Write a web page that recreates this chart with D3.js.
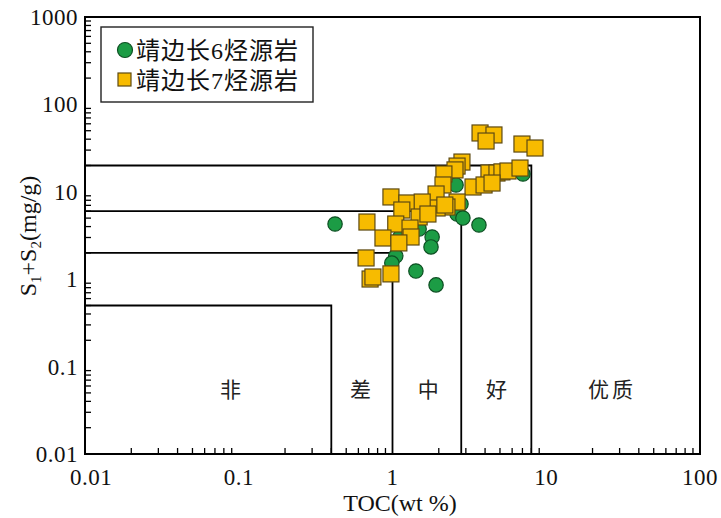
<!DOCTYPE html>
<html>
<head>
<meta charset="utf-8">
<script src="https://cdn.jsdelivr.net/npm/d3@7"></script>
<style>
  html, body { margin: 0; padding: 0; background: #fff; }
  .serif { font-family: "Liberation Serif", "Times New Roman", Times, "DejaVu Serif", serif, "Noto Sans CJK SC"; }
  .cjk { font-family: "Noto Sans CJK SC", "Noto Sans CJK JP", sans-serif; }
</style>
</head>
<body>
<svg id="chart" width="721" height="518"></svg>
<script>
// 靖边长6烃源岩: TOC (wt%) and S1+S2 (mg/g)
const chang6TOC = [0.423, 1.12, 1.49, 1.81, 1.78, 1.05, 0.99, 1.42, 1.92, 2.59, 2.79, 2.63, 2.87, 3.65, 7.06];
const chang6S12 = [4.28, 3.04, 3.75, 3.04, 2.34, 1.84, 1.53, 1.24, 0.86, 11.97, 7.25, 5.57, 5.01, 4.17, 16.0];

// 靖边长7烃源岩: TOC (wt%) and S1+S2 (mg/g)
const chang7TOC = [3.71, 4.57, 4.06, 6.95, 8.45, 2.83, 2.63, 2.55, 2.16, 4.24, 4.78, 5.15, 5.64, 6.75,
                   3.34, 3.94, 4.44, 2.13, 1.92, 2.63, 2.26, 1.95, 2.19, 0.977, 1.24, 1.56, 1.15, 1.49,
                   1.70, 0.682, 1.05, 1.30, 1.32, 0.867, 1.10, 0.673, 0.715, 0.746, 0.977];
const chang7S12 = [47.1, 44.7, 38.1, 35.2, 31.7, 21.9, 19.7, 17.8, 16.0, 16.4, 16.4, 16.9, 17.3, 18.7,
                   11.35, 11.97, 12.6, 11.97, 9.44, 7.64, 6.70, 6.53, 7.06, 8.73, 7.45, 7.64, 6.19, 5.15,
                   5.57, 4.51, 4.28, 3.85, 3.04, 2.96, 2.60, 1.75, 1.005, 1.06, 1.15];

// Grade boundaries: each step runs from the left edge to gradeTOC at gradeS12, then down to the floor
const gradeTOC = [0.4, 1, 2.8, 8];
const gradeS12 = [0.5, 2, 6, 20];

// Grade labels and their anchor positions (TOC, S1+S2)
const gradeNames = ["非", "差", "中", "好", "优质"];
const gradeNameTOC = [0.0904, 0.634, 1.75, 4.85, 26.8];
const gradeNameS12 = 0.0555;

const xTicks = [0.01, 0.1, 1, 10, 100];
const yTicks = [0.01, 0.1, 1, 10, 100, 1000];
const legendNames = ["靖边长6烃源岩", "靖边长7烃源岩"];

const svg = d3.select("#chart");
const plotLeft = 85, plotRight = 700, plotTop = 17, plotBottom = 454;

const x = d3.scaleLog().domain([0.01, 100]).range([plotLeft, plotRight]);
const y = d3.scaleLog().domain([0.01, 1000]).range([plotBottom, plotTop]);

const GREEN = "#1c9c45", GREEN_EDGE = "#0d4f22";
const GOLD = "#f7bb00", GOLD_EDGE = "#5e4a12";

// minor tick values (2..9 of each decade) on a log axis
function logTicks(domain) {
  const out = [];
  for (let e = Math.round(Math.log10(domain[0])); e < Math.round(Math.log10(domain[1])); e++) {
    for (let k = 2; k <= 9; k++) out.push(k * Math.pow(10, e));
  }
  return out;
}

// inward ticks along the bottom
const gx = svg.append("g");
gx.selectAll("line").data(logTicks(x.domain())).join("line")
  .attr("x1", d => x(d)).attr("x2", d => x(d))
  .attr("y1", plotBottom).attr("y2", plotBottom - 6)
  .attr("stroke", "#000").attr("stroke-width", 1.3);
gx.selectAll("text").data(xTicks).join("text")
  .attr("class", "serif")
  .attr("x", (d, i) => x(d) + (i === 0 ? 6 : 0)).attr("y", plotBottom + 31)
  .attr("text-anchor", "middle").attr("font-size", 23).attr("fill", "#111")
  .style("letter-spacing", "0.5px")
  .text(d => String(d));

// inward ticks along the left
const gy = svg.append("g");
gy.selectAll("line").data(logTicks(y.domain())).join("line")
  .attr("x1", plotLeft).attr("x2", plotLeft + 6)
  .attr("y1", d => y(d)).attr("y2", d => y(d))
  .attr("stroke", "#000").attr("stroke-width", 1.3);
gy.selectAll("text").data(yTicks).join("text")
  .attr("class", "serif")
  .attr("x", plotLeft - 7).attr("y", d => y(d) + 8)
  .attr("text-anchor", "end").attr("font-size", 23).attr("fill", "#111")
  .style("letter-spacing", "0.5px")
  .text(d => String(d));

// grade boundary steps
const steps = svg.append("g").attr("fill", "none").attr("stroke", "#000").attr("stroke-width", 1.8);
gradeTOC.forEach((t, i) => {
  steps.append("path")
    .attr("d", `M${x(0.01)},${y(gradeS12[i])}H${x(t)}V${y(0.01)}`);
});

// grade labels
svg.append("g").selectAll("text").data(gradeNames).join("text")
  .attr("class", "cjk")
  .attr("x", (d, i) => x(gradeNameTOC[i])).attr("y", y(gradeNameS12) + 8)
  .attr("text-anchor", "middle").attr("font-size", 21).attr("fill", "#222")
  .style("letter-spacing", "3px")
  .text(d => d);

// 长6 circles
svg.append("g").selectAll("circle").data(chang6TOC).join("circle")
  .attr("cx", d => x(d)).attr("cy", (d, i) => y(chang6S12[i]))
  .attr("r", 7.2).attr("fill", GREEN).attr("stroke", GREEN_EDGE).attr("stroke-width", 1.2);

// 长7 squares
const sq = 16;
svg.append("g").selectAll("rect").data(chang7TOC).join("rect")
  .attr("x", d => x(d) - sq / 2).attr("y", (d, i) => y(chang7S12[i]) - sq / 2)
  .attr("width", sq).attr("height", sq)
  .attr("fill", GOLD).attr("stroke", GOLD_EDGE).attr("stroke-width", 1.2);

// plot frame
svg.append("rect")
  .attr("x", plotLeft).attr("y", plotTop).attr("width", plotRight - plotLeft).attr("height", plotBottom - plotTop)
  .attr("fill", "none").attr("stroke", "#000").attr("stroke-width", 2);

// legend
const lg = svg.append("g");
lg.append("rect").attr("x", 101).attr("y", 27).attr("width", 212).attr("height", 75)
  .attr("fill", "#fff").attr("stroke", "#222").attr("stroke-width", 1.4);
lg.append("circle").attr("cx", 125).attr("cy", 50).attr("r", 7.5)
  .attr("fill", GREEN).attr("stroke", GREEN_EDGE).attr("stroke-width", 1.2);
lg.append("rect").attr("x", 118).attr("y", 73).attr("width", 13).attr("height", 13)
  .attr("fill", GOLD).attr("stroke", GOLD_EDGE).attr("stroke-width", 1.2);
lg.selectAll("text").data(legendNames).join("text")
  .attr("class", "serif")
  .attr("x", 136).attr("y", (d, i) => 59 + i * 30)
  .attr("font-size", 24).attr("fill", "#111")
  .style("letter-spacing", "1px")
  .text(d => d);

// axis titles
svg.append("text").attr("class", "serif")
  .attr("x", 400).attr("y", 511)
  .attr("text-anchor", "middle").attr("font-size", 24).attr("fill", "#111")
  .text("TOC(wt %)");

const yt = svg.append("text").attr("class", "serif")
  .attr("transform", "translate(36,236) rotate(-90)")
  .attr("text-anchor", "middle").attr("font-size", 24).attr("fill", "#111");
yt.append("tspan").text("S");
yt.append("tspan").attr("font-size", 15).attr("dy", 5).text("1");
yt.append("tspan").attr("dy", -5).text("+S");
yt.append("tspan").attr("font-size", 15).attr("dy", 5).text("2");
yt.append("tspan").attr("dy", -5).text("(mg/g)");
</script>
</body>
</html>
